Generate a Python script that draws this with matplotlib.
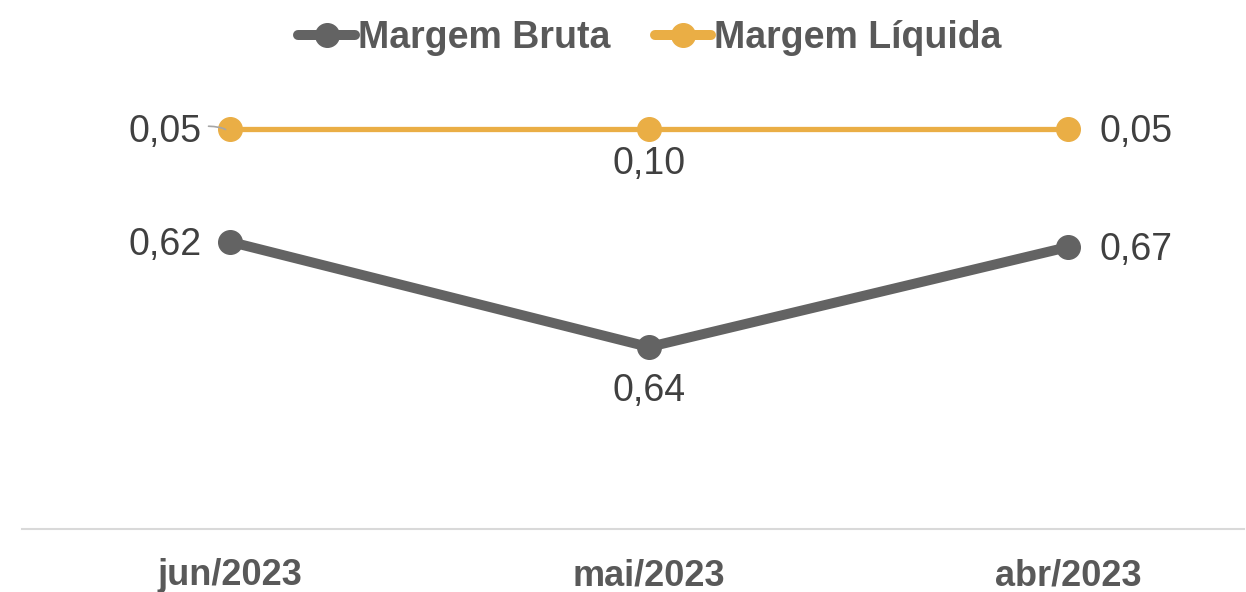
import matplotlib.pyplot as plt
from matplotlib.lines import Line2D

plt.rcParams['font.family'] = ['Liberation Sans', 'DejaVu Sans']

# Data
categories = ["jun/2023", "mai/2023", "abr/2023"]
# plotted positions (as drawn in the source chart) and the data labels shown
bruta_pos = [0.543, 0.344, 0.533]
bruta_labels = ["0,62", "0,64", "0,67"]
liquida_pos = [0.756, 0.756, 0.756]
liquida_labels = ["0,05", "0,10", "0,05"]

gray = "#636363"
yellow = "#EAAE45"
text_col = "#404040"

fig = plt.figure(figsize=(12.46, 5.92), dpi=100)
ax = fig.add_axes([22 / 1246, 63 / 592, 1222 / 1246, 529 / 592])

x = list(range(len(categories)))

ax.plot(x, bruta_pos, color=gray, lw=7.2, marker="o", ms=17,
        solid_capstyle="round", zorder=3)
ax.plot(x, liquida_pos, color=yellow, lw=3.8, marker="o", ms=17,
        solid_capstyle="round", zorder=3)

ax.set_xlim(-0.496, 2.42)
ax.set_ylim(0, 1)

# data labels: left, below, right
offsets = [((-28, -3), "right", "center"), ((0, -44), "center", "center"), ((32, -3), "left", "center")]
for i in x:
    (dx, dy), ha, va = offsets[i]
    ax.annotate(bruta_labels[i], (x[i], bruta_pos[i]), xytext=(dx, dy),
                textcoords="offset pixels", ha=ha, va=va, fontsize=27, color=text_col)
    ax.annotate(liquida_labels[i], (x[i], liquida_pos[i]),
                xytext=(dx, dy + (9 if i == 1 else 0)),
                textcoords="offset pixels", ha=ha, va=va, fontsize=27, color=text_col)

# small leader line at the first label
ax.annotate("", (x[0] - 0.005, liquida_pos[0] - 0.004), xytext=(-22, 5),
            textcoords="offset pixels",
            arrowprops=dict(arrowstyle="-", color="#A6A6A6", lw=1.2,
                            connectionstyle="angle3,angleA=0,angleB=-45"))

for s in ["top", "right", "left"]:
    ax.spines[s].set_visible(False)
ax.spines["bottom"].set_color("#D9D9D9")
ax.spines["bottom"].set_linewidth(1.5)
ax.set_yticks([])
ax.set_xticks(x)
ax.set_xticklabels(categories, fontsize=26, fontweight="bold", color="#595959")
ax.tick_params(axis="x", length=0, pad=21)

handles = [Line2D([], [], color=gray, lw=7.2, marker="o", ms=17, solid_capstyle="round"),
           Line2D([], [], color=yellow, lw=7.2, marker="o", ms=17, solid_capstyle="round")]
leg = fig.legend(handles, ["Margem Bruta", "Margem Líquida"], loc="center",
                 bbox_to_anchor=(650 / 1246, 1 - 38 / 592), ncol=2,
                 frameon=False, handlelength=1.5, handletextpad=0.08, columnspacing=1.2,
                 prop={"size": 27, "weight": "bold"})
for t in leg.get_texts():
    t.set_color("#595959")

fig.savefig("out.png", dpi=100)
